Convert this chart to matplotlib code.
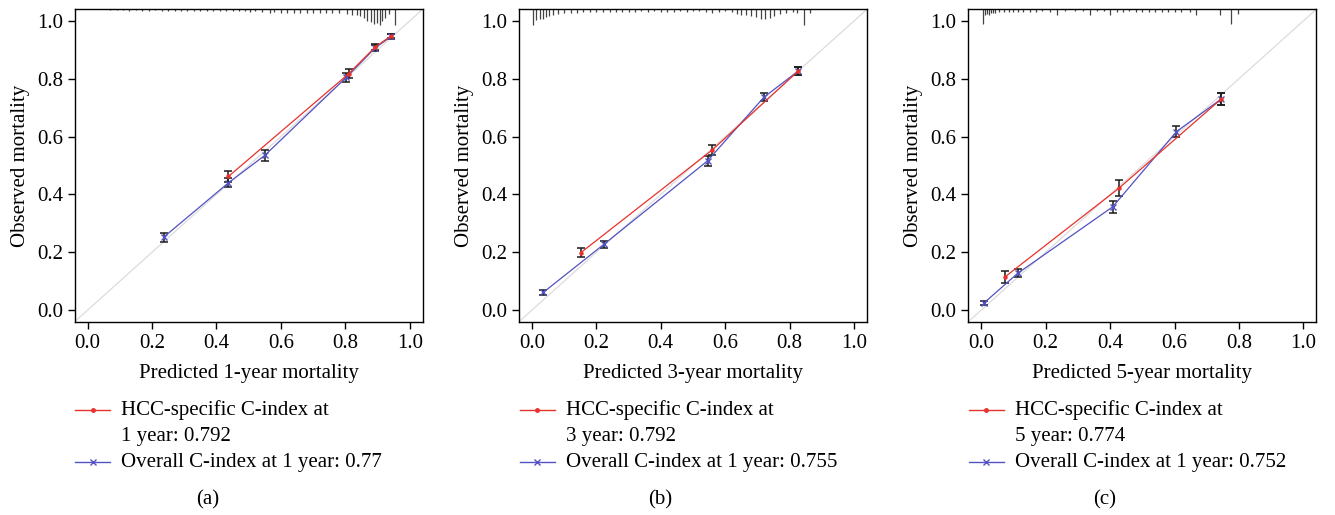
import numpy as np
import matplotlib.pyplot as plt
from matplotlib.lines import Line2D

plt.rcParams['font.family'] = ['Liberation Serif', 'DejaVu Serif']
plt.rcParams['font.size'] = 15

RED = '#e8312b'
BLUE = '#5252c2'

# ---- panel (a): 1-year ----
a_hcc_x = [0.437, 0.810, 0.893, 0.942]
a_hcc_y = [0.462, 0.817, 0.910, 0.948]
a_hcc_err = [0.018, 0.016, 0.010, 0.008]
a_all_x = [0.236, 0.437, 0.550, 0.803, 0.893, 0.942]
a_all_y = [0.252, 0.440, 0.535, 0.805, 0.907, 0.946]
a_all_err = [0.016, 0.016, 0.018, 0.016, 0.010, 0.008]
a_rug_x = [0.07, 0.09, 0.11, 0.13, 0.15, 0.17, 0.19, 0.21, 0.23, 0.25, 0.27, 0.29,
           0.31, 0.33, 0.35, 0.37, 0.39, 0.41, 0.43, 0.45, 0.47, 0.49, 0.505, 0.52,
           0.54, 0.567, 0.58, 0.60, 0.62, 0.64, 0.66, 0.68, 0.70, 0.72, 0.74, 0.76,
           0.78, 0.805, 0.82, 0.835, 0.846, 0.857, 0.868, 0.878, 0.888, 0.898, 0.906,
           0.914, 0.924, 0.935, 0.955]
a_rug_len = [0.004, 0.004, 0.004, 0.005, 0.004, 0.005, 0.005, 0.004, 0.005, 0.005, 0.005, 0.006,
             0.005, 0.006, 0.005, 0.006, 0.005, 0.006, 0.006, 0.007, 0.006, 0.006, 0.010, 0.007,
             0.008, 0.012, 0.010, 0.013, 0.012, 0.014, 0.012, 0.013, 0.014, 0.012, 0.013, 0.014,
             0.013, 0.015, 0.018, 0.020, 0.022, 0.030, 0.040, 0.045, 0.050, 0.048, 0.055,
             0.040, 0.030, 0.015, 0.055]

# ---- panel (b): 3-year ----
b_hcc_x = [0.151, 0.560, 0.827]
b_hcc_y = [0.198, 0.554, 0.827]
b_hcc_err = [0.016, 0.016, 0.014]
b_all_x = [0.035, 0.224, 0.545, 0.720, 0.827]
b_all_y = [0.061, 0.228, 0.516, 0.736, 0.827]
b_all_err = [0.008, 0.012, 0.016, 0.014, 0.014]
b_rug_x = [0.004, 0.014, 0.024, 0.034, 0.044, 0.054, 0.066, 0.08, 0.10, 0.12, 0.14, 0.16,
           0.18, 0.20, 0.22, 0.242, 0.26, 0.28, 0.30, 0.32, 0.34, 0.36, 0.38, 0.40, 0.42,
           0.44, 0.46, 0.48, 0.50, 0.52, 0.54, 0.56, 0.58, 0.60, 0.62, 0.636, 0.65, 0.665,
           0.68, 0.695, 0.71, 0.725, 0.74, 0.75, 0.77, 0.79, 0.81, 0.822, 0.845, 0.863]
b_rug_len = [0.054, 0.037, 0.035, 0.032, 0.028, 0.024, 0.020, 0.016, 0.014, 0.012, 0.012, 0.011,
             0.010, 0.011, 0.010, 0.009, 0.008, 0.008, 0.009, 0.008, 0.007, 0.008, 0.007, 0.008, 0.009,
             0.008, 0.007, 0.008, 0.007, 0.006, 0.008, 0.012, 0.008, 0.007, 0.008, 0.015, 0.018, 0.020,
             0.024, 0.028, 0.032, 0.035, 0.030, 0.024, 0.015, 0.012, 0.010, 0.012, 0.055, 0.012]

# ---- panel (c): 5-year ----
c_hcc_x = [0.074, 0.427, 0.745]
c_hcc_y = [0.115, 0.421, 0.730]
c_hcc_err = [0.022, 0.028, 0.020]
c_all_x = [0.009, 0.113, 0.408, 0.606, 0.745]
c_all_y = [0.025, 0.127, 0.357, 0.617, 0.730]
c_all_err = [0.007, 0.014, 0.021, 0.020, 0.020]
c_rug_x = [0.007, 0.012, 0.018, 0.024, 0.030, 0.036, 0.043, 0.055, 0.07, 0.085, 0.10, 0.115,
           0.13, 0.15, 0.17, 0.19, 0.213, 0.234, 0.26, 0.29, 0.315, 0.337, 0.36, 0.38, 0.399,
           0.42, 0.44, 0.46, 0.48, 0.50, 0.52, 0.54, 0.56, 0.58, 0.60, 0.62, 0.647, 0.668,
           0.74, 0.776, 0.797]
c_rug_len = [0.050, 0.020, 0.015, 0.018, 0.012, 0.014, 0.012, 0.010, 0.010, 0.008, 0.010, 0.008,
             0.009, 0.008, 0.008, 0.007, 0.008, 0.020, 0.006, 0.006, 0.007, 0.020, 0.006, 0.007, 0.020,
             0.008, 0.008, 0.007, 0.008, 0.009, 0.008, 0.008, 0.009, 0.008, 0.009, 0.008, 0.008, 0.020,
             0.020, 0.050, 0.015]

panels = [
    ('1', 'a', a_hcc_x, a_hcc_y, a_hcc_err, a_all_x, a_all_y, a_all_err, a_rug_x, a_rug_len,
     '0.792', '1', '0.77'),
    ('3', 'b', b_hcc_x, b_hcc_y, b_hcc_err, b_all_x, b_all_y, b_all_err, b_rug_x, b_rug_len,
     '0.792', '1', '0.755'),
    ('5', 'c', c_hcc_x, c_hcc_y, c_hcc_err, c_all_x, c_all_y, c_all_err, c_rug_x, c_rug_len,
     '0.774', '1', '0.752'),
]

W, H = 1335, 515
fig = plt.figure(figsize=(W / 100, H / 100), dpi=100)

ax_left = [74.7, 519.0, 968.3]   # pixel left edge of each axes
ax_w, ax_top, ax_bot = 348.0, 9.3, 321.7
cap_x = [208, 660, 1105]
lo, hi = -0.04, 1.04


def fx(px):
    return px / W


def fy(py):
    return 1 - py / H


for i, (yr, tag, hx, hy, he, ox, oy, oe, rx, rl, hc, oyr, oc) in enumerate(panels):
    ax = fig.add_axes([fx(ax_left[i]), fy(ax_bot), ax_w / W, (ax_bot - ax_top) / H])
    ax.set_xlim(lo, hi)
    ax.set_ylim(lo, hi)
    ax.plot([lo, hi], [lo, hi], color='#dcdcdc', lw=0.9, zorder=1)
    # rug of predicted values, hanging from the top
    ax.vlines(rx, hi - np.array(rl), hi, color='#444444', lw=0.9, zorder=2)
    ax.errorbar(ox, oy, yerr=oe, fmt='none', ecolor='#1a1a1a', elinewidth=1.1,
                capsize=3, capthick=1.1, zorder=3)
    ax.errorbar(hx, hy, yerr=he, fmt='none', ecolor='#1a1a1a', elinewidth=1.1,
                capsize=3, capthick=1.1, zorder=3)
    ax.plot(ox, oy, color=BLUE, lw=0.9, marker='x', ms=4, mew=1.0, zorder=4)
    ax.plot(hx, hy, color=RED, lw=0.9, marker='o', ms=2.2, zorder=5)
    ax.set_xticks(np.arange(0, 1.01, 0.2))
    ax.set_yticks(np.arange(0, 1.01, 0.2))
    ax.tick_params(length=5, width=1, direction='out')
    for s in ax.spines.values():
        s.set_linewidth(1)
    ax.set_xlabel('Predicted %s-year mortality' % yr, labelpad=8)
    ax.set_ylabel('Observed mortality', labelpad=5)

    # legend below the axes
    lx0 = ax_left[i] + 0.5
    lx1 = lx0 + 35
    tx = lx1 + 11
    fig.add_artist(Line2D([fx(lx0), fx(lx1)], [fy(410), fy(410)], color=RED, lw=1,
                          transform=fig.transFigure))
    fig.add_artist(Line2D([fx((lx0 + lx1) / 2)], [fy(410)], color=RED, marker='o', ms=2.5,
                          transform=fig.transFigure))
    fig.add_artist(Line2D([fx(lx0), fx(lx1)], [fy(462), fy(462)], color=BLUE, lw=1,
                          transform=fig.transFigure))
    fig.add_artist(Line2D([fx((lx0 + lx1) / 2)], [fy(462)], color=BLUE, marker='x', ms=4,
                          mew=1, transform=fig.transFigure))
    fig.text(fx(tx), fy(410), 'HCC-specific C-index at', va='center', ha='left')
    fig.text(fx(tx), fy(436), '%s year: %s' % (yr, hc), va='center', ha='left')
    fig.text(fx(tx), fy(462), 'Overall C-index at %s year: %s' % (oyr, oc), va='center', ha='left')
    fig.text(fx(cap_x[i]), fy(500), '(%s)' % tag, va='center', ha='center')

fig.savefig('out.png', dpi=100)
